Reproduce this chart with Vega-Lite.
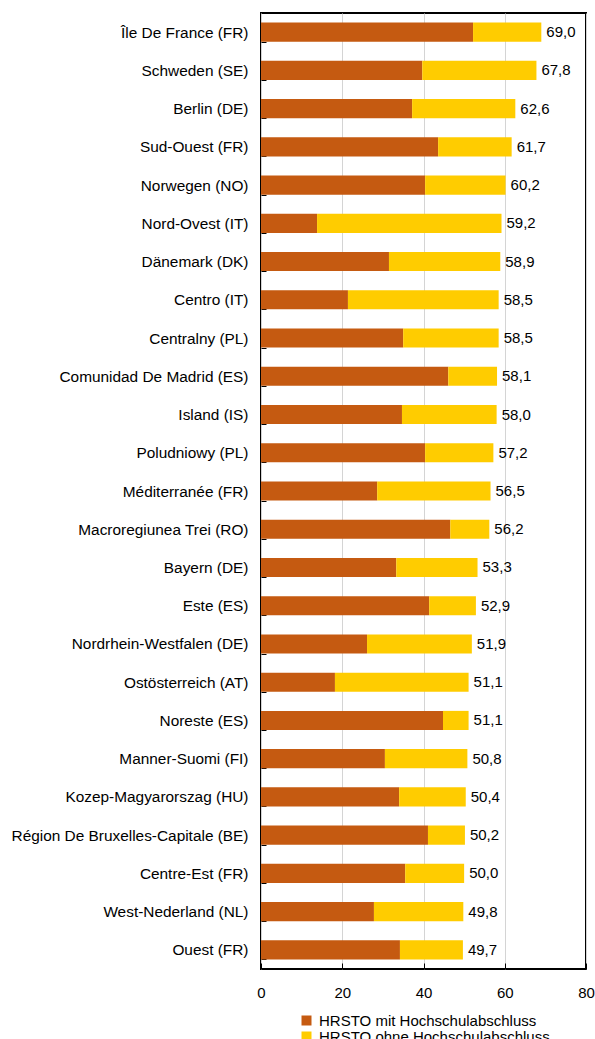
{
  "$schema": "https://vega.github.io/schema/vega-lite/v6.json",
  "autosize": {"type": "none"},
  "padding": {"left": 261, "top": 13, "right": 9, "bottom": 70},
  "width": 325,
  "height": 956,
  "background": "white",
  "config": {
    "font": "Liberation Sans",
    "view": {"stroke": "black", "strokeWidth": 2},
    "axis": {"labelFont": "Liberation Sans", "labelColor": "black", "labelFontSize": 15}
  },
  "datasets": {
    "parts": [
      {"region": "Île De France (FR)", "series": "HRSTO mit Hochschulabschluss", "value": 52.2},
      {"region": "Île De France (FR)", "series": "HRSTO ohne Hochschulabschluss", "value": 16.8},
      {"region": "Schweden (SE)", "series": "HRSTO mit Hochschulabschluss", "value": 39.7},
      {"region": "Schweden (SE)", "series": "HRSTO ohne Hochschulabschluss", "value": 28.1},
      {"region": "Berlin (DE)", "series": "HRSTO mit Hochschulabschluss", "value": 37.2},
      {"region": "Berlin (DE)", "series": "HRSTO ohne Hochschulabschluss", "value": 25.4},
      {"region": "Sud-Ouest (FR)", "series": "HRSTO mit Hochschulabschluss", "value": 43.6},
      {"region": "Sud-Ouest (FR)", "series": "HRSTO ohne Hochschulabschluss", "value": 18.1},
      {"region": "Norwegen (NO)", "series": "HRSTO mit Hochschulabschluss", "value": 40.4},
      {"region": "Norwegen (NO)", "series": "HRSTO ohne Hochschulabschluss", "value": 19.8},
      {"region": "Nord-Ovest (IT)", "series": "HRSTO mit Hochschulabschluss", "value": 13.8},
      {"region": "Nord-Ovest (IT)", "series": "HRSTO ohne Hochschulabschluss", "value": 45.4},
      {"region": "Dänemark (DK)", "series": "HRSTO mit Hochschulabschluss", "value": 31.5},
      {"region": "Dänemark (DK)", "series": "HRSTO ohne Hochschulabschluss", "value": 27.4},
      {"region": "Centro (IT)", "series": "HRSTO mit Hochschulabschluss", "value": 21.4},
      {"region": "Centro (IT)", "series": "HRSTO ohne Hochschulabschluss", "value": 37.1},
      {"region": "Centralny (PL)", "series": "HRSTO mit Hochschulabschluss", "value": 35.0},
      {"region": "Centralny (PL)", "series": "HRSTO ohne Hochschulabschluss", "value": 23.5},
      {"region": "Comunidad De Madrid (ES)", "series": "HRSTO mit Hochschulabschluss", "value": 46.1},
      {"region": "Comunidad De Madrid (ES)", "series": "HRSTO ohne Hochschulabschluss", "value": 12.0},
      {"region": "Island (IS)", "series": "HRSTO mit Hochschulabschluss", "value": 34.7},
      {"region": "Island (IS)", "series": "HRSTO ohne Hochschulabschluss", "value": 23.3},
      {"region": "Poludniowy (PL)", "series": "HRSTO mit Hochschulabschluss", "value": 40.4},
      {"region": "Poludniowy (PL)", "series": "HRSTO ohne Hochschulabschluss", "value": 16.8},
      {"region": "Méditerranée (FR)", "series": "HRSTO mit Hochschulabschluss", "value": 28.6},
      {"region": "Méditerranée (FR)", "series": "HRSTO ohne Hochschulabschluss", "value": 27.9},
      {"region": "Macroregiunea Trei (RO)", "series": "HRSTO mit Hochschulabschluss", "value": 46.6},
      {"region": "Macroregiunea Trei (RO)", "series": "HRSTO ohne Hochschulabschluss", "value": 9.6},
      {"region": "Bayern (DE)", "series": "HRSTO mit Hochschulabschluss", "value": 33.3},
      {"region": "Bayern (DE)", "series": "HRSTO ohne Hochschulabschluss", "value": 20.0},
      {"region": "Este (ES)", "series": "HRSTO mit Hochschulabschluss", "value": 41.4},
      {"region": "Este (ES)", "series": "HRSTO ohne Hochschulabschluss", "value": 11.5},
      {"region": "Nordrhein-Westfalen (DE)", "series": "HRSTO mit Hochschulabschluss", "value": 26.1},
      {"region": "Nordrhein-Westfalen (DE)", "series": "HRSTO ohne Hochschulabschluss", "value": 25.8},
      {"region": "Ostösterreich (AT)", "series": "HRSTO mit Hochschulabschluss", "value": 18.2},
      {"region": "Ostösterreich (AT)", "series": "HRSTO ohne Hochschulabschluss", "value": 32.9},
      {"region": "Noreste (ES)", "series": "HRSTO mit Hochschulabschluss", "value": 44.8},
      {"region": "Noreste (ES)", "series": "HRSTO ohne Hochschulabschluss", "value": 6.3},
      {"region": "Manner-Suomi (FI)", "series": "HRSTO mit Hochschulabschluss", "value": 30.5},
      {"region": "Manner-Suomi (FI)", "series": "HRSTO ohne Hochschulabschluss", "value": 20.3},
      {"region": "Kozep-Magyarorszag (HU)", "series": "HRSTO mit Hochschulabschluss", "value": 34.0},
      {"region": "Kozep-Magyarorszag (HU)", "series": "HRSTO ohne Hochschulabschluss", "value": 16.4},
      {"region": "Région De Bruxelles-Capitale (BE)", "series": "HRSTO mit Hochschulabschluss", "value": 41.1},
      {"region": "Région De Bruxelles-Capitale (BE)", "series": "HRSTO ohne Hochschulabschluss", "value": 9.1},
      {"region": "Centre-Est (FR)", "series": "HRSTO mit Hochschulabschluss", "value": 35.5},
      {"region": "Centre-Est (FR)", "series": "HRSTO ohne Hochschulabschluss", "value": 14.5},
      {"region": "West-Nederland (NL)", "series": "HRSTO mit Hochschulabschluss", "value": 27.8},
      {"region": "West-Nederland (NL)", "series": "HRSTO ohne Hochschulabschluss", "value": 22.0},
      {"region": "Ouest (FR)", "series": "HRSTO mit Hochschulabschluss", "value": 34.2},
      {"region": "Ouest (FR)", "series": "HRSTO ohne Hochschulabschluss", "value": 15.5}
    ],
    "totals": [
      {"region": "Île De France (FR)", "total": 69.0, "label": "69,0"},
      {"region": "Schweden (SE)", "total": 67.8, "label": "67,8"},
      {"region": "Berlin (DE)", "total": 62.6, "label": "62,6"},
      {"region": "Sud-Ouest (FR)", "total": 61.7, "label": "61,7"},
      {"region": "Norwegen (NO)", "total": 60.2, "label": "60,2"},
      {"region": "Nord-Ovest (IT)", "total": 59.2, "label": "59,2"},
      {"region": "Dänemark (DK)", "total": 58.9, "label": "58,9"},
      {"region": "Centro (IT)", "total": 58.5, "label": "58,5"},
      {"region": "Centralny (PL)", "total": 58.5, "label": "58,5"},
      {"region": "Comunidad De Madrid (ES)", "total": 58.1, "label": "58,1"},
      {"region": "Island (IS)", "total": 58.0, "label": "58,0"},
      {"region": "Poludniowy (PL)", "total": 57.2, "label": "57,2"},
      {"region": "Méditerranée (FR)", "total": 56.5, "label": "56,5"},
      {"region": "Macroregiunea Trei (RO)", "total": 56.2, "label": "56,2"},
      {"region": "Bayern (DE)", "total": 53.3, "label": "53,3"},
      {"region": "Este (ES)", "total": 52.9, "label": "52,9"},
      {"region": "Nordrhein-Westfalen (DE)", "total": 51.9, "label": "51,9"},
      {"region": "Ostösterreich (AT)", "total": 51.1, "label": "51,1"},
      {"region": "Noreste (ES)", "total": 51.1, "label": "51,1"},
      {"region": "Manner-Suomi (FI)", "total": 50.8, "label": "50,8"},
      {"region": "Kozep-Magyarorszag (HU)", "total": 50.4, "label": "50,4"},
      {"region": "Région De Bruxelles-Capitale (BE)", "total": 50.2, "label": "50,2"},
      {"region": "Centre-Est (FR)", "total": 50.0, "label": "50,0"},
      {"region": "West-Nederland (NL)", "total": 49.8, "label": "49,8"},
      {"region": "Ouest (FR)", "total": 49.7, "label": "49,7"}
    ]
  },
  "encoding": {
    "y": {
      "field": "region",
      "type": "nominal",
      "sort": ["Île De France (FR)", "Schweden (SE)", "Berlin (DE)", "Sud-Ouest (FR)", "Norwegen (NO)", "Nord-Ovest (IT)", "Dänemark (DK)", "Centro (IT)", "Centralny (PL)", "Comunidad De Madrid (ES)", "Island (IS)", "Poludniowy (PL)", "Méditerranée (FR)", "Macroregiunea Trei (RO)", "Bayern (DE)", "Este (ES)", "Nordrhein-Westfalen (DE)", "Ostösterreich (AT)", "Noreste (ES)", "Manner-Suomi (FI)", "Kozep-Magyarorszag (HU)", "Région De Bruxelles-Capitale (BE)", "Centre-Est (FR)", "West-Nederland (NL)", "Ouest (FR)"],
      "scale": {"paddingInner": 0.5, "paddingOuter": 0.25},
      "axis": {
        "title": null,
        "domain": false,
        "tickBand": "extent",
        "tickSize": -5,
        "tickColor": "black",
        "labelPadding": 18,
        "labelFontSize": 15.4,
        "labelLimit": 300
      }
    }
  },
  "layer": [
    {
      "data": {"name": "parts"},
      "mark": {"type": "bar"},
      "encoding": {
        "x": {
          "field": "value",
          "type": "quantitative",
          "stack": "zero",
          "scale": {"domain": [0, 80], "nice": false},
          "axis": {
            "title": null,
            "values": [0, 20, 40, 60, 80],
            "domain": false,
            "grid": true,
            "gridColor": "#d4d4d4",
            "tickSize": -6,
            "tickColor": "black",
            "labelPadding": 22,
            "labelFlush": false
          }
        },
        "color": {
          "field": "series",
          "type": "nominal",
          "scale": {"domain": ["HRSTO mit Hochschulabschluss", "HRSTO ohne Hochschulabschluss"], "range": ["#C55A11", "#FFCC00"]},
          "legend": {
            "title": null,
            "orient": "none",
            "legendX": 38,
            "legendY": 1000,
            "padding": 0,
            "symbolType": "square",
            "symbolSize": 100,
            "symbolStrokeWidth": 0,
            "labelFontSize": 15,
            "labelFont": "Liberation Sans",
            "labelColor": "black",
            "labelOffset": 5,
            "rowPadding": -3,
            "labelLimit": 400
          }
        },
        "order": {"field": "series", "type": "nominal"}
      }
    },
    {
      "data": {"name": "totals"},
      "mark": {"type": "text", "align": "left", "baseline": "middle", "dx": 5, "fontSize": 15, "font": "Liberation Sans", "color": "black"},
      "encoding": {
        "x": {"field": "total", "type": "quantitative"},
        "text": {"field": "label"}
      }
    }
  ]
}
